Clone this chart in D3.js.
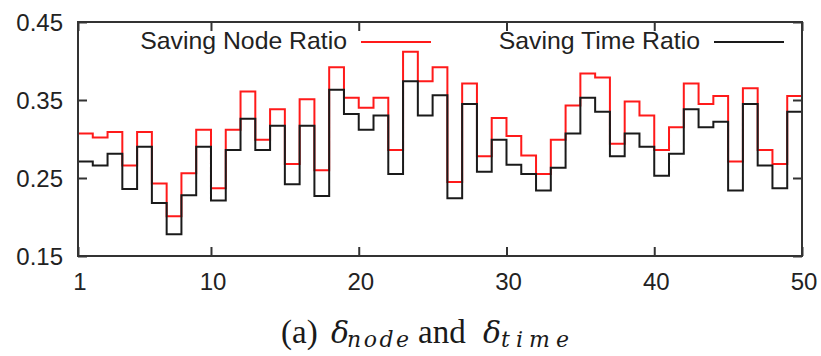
<!DOCTYPE html>
<html>
<head>
<meta charset="utf-8">
<script src="https://cdn.jsdelivr.net/npm/d3@7"></script>
<style>
  html, body { margin: 0; padding: 0; background: #fff; }
  svg { display: block; }
</style>
</head>
<body>
<svg id="chart" width="821" height="356"></svg>
<script>
// Per-run ratios, one value per step (run 1..49, each held until the next run)
const nodeRatio = [0.307,0.302,0.309,0.266,0.309,0.243,0.201,0.256,0.312,0.237,
                   0.312,0.361,0.299,0.338,0.268,0.351,0.260,0.392,0.353,0.340,
                   0.353,0.286,0.412,0.374,0.392,0.245,0.371,0.278,0.327,0.304,
                   0.279,0.255,0.299,0.343,0.384,0.379,0.294,0.348,0.330,0.286,
                   0.315,0.371,0.345,0.355,0.271,0.365,0.286,0.268,0.355];
const timeRatio = [0.271,0.266,0.281,0.236,0.290,0.218,0.178,0.228,0.290,0.221,
                   0.286,0.326,0.286,0.317,0.242,0.317,0.227,0.363,0.332,0.312,
                   0.330,0.255,0.374,0.330,0.356,0.224,0.345,0.258,0.299,0.267,
                   0.255,0.234,0.263,0.307,0.353,0.335,0.278,0.307,0.290,0.253,
                   0.281,0.338,0.315,0.322,0.234,0.345,0.266,0.237,0.335];
const seriesNames = ["Saving Node Ratio", "Saving Time Ratio"];
const seriesColors = ["#ff1a1a", "#1a1a1a"];
const xTicks = [1, 10, 20, 30, 40, 50];
const yTicks = [0.15, 0.25, 0.35, 0.45];
const xDomain = [1, 50];
const yDomain = [0.15, 0.45];

const svg = d3.select("#chart");
const plotLeft = 78, plotRight = 802, plotTop = 22, plotBottom = 256;

const x = d3.scaleLinear().domain(xDomain).range([plotLeft, plotRight]);
const y = d3.scaleLinear().domain(yDomain).range([plotBottom, plotTop]);

const sans = "'Liberation Sans', Arial, Helvetica, sans-serif";
const serif = "'Liberation Serif', 'Times New Roman', serif";
const mathSerif = "'DejaVu Serif', serif";
const axisColor = "#333";
const tickLen = 9;

// Step paths: each value held from run i to run i+1
function stepPoints(vals) {
  const pts = vals.map((v, i) => [i + 1, v]);
  pts.push([vals.length + 1, vals[vals.length - 1]]);
  return pts;
}
const line = d3.line()
  .x(d => x(d[0]))
  .y(d => y(d[1]))
  .curve(d3.curveStepAfter);

const plot = svg.append("g");
[nodeRatio, timeRatio].forEach((vals, k) => {
  plot.append("path")
    .datum(stepPoints(vals))
    .attr("d", line)
    .attr("fill", "none")
    .attr("stroke", seriesColors[k])
    .attr("stroke-width", 2)
    .attr("stroke-linejoin", "miter");
});

// Axes: inward ticks on all four sides, labels on left and bottom
const axisB = d3.axisBottom(x).tickValues(xTicks).tickSize(-tickLen).tickFormat("");
const axisT = d3.axisTop(x).tickValues(xTicks).tickSize(-tickLen).tickFormat("");
const axisL = d3.axisLeft(y).tickValues(yTicks).tickSize(-tickLen).tickFormat("");
const axisR = d3.axisRight(y).tickValues(yTicks).tickSize(-tickLen).tickFormat("");

function styleAxis(g) {
  g.select(".domain").remove();
  g.selectAll(".tick line").attr("stroke", axisColor).attr("stroke-width", 2);
}
svg.append("g").attr("transform", `translate(0,${plotBottom})`).call(axisB).call(styleAxis);
svg.append("g").attr("transform", `translate(0,${plotTop})`).call(axisT).call(styleAxis);
svg.append("g").attr("transform", `translate(${plotLeft},0)`).call(axisL).call(styleAxis);
svg.append("g").attr("transform", `translate(${plotRight},0)`).call(axisR).call(styleAxis);

// Frame
svg.append("rect")
  .attr("x", plotLeft).attr("y", plotTop)
  .attr("width", plotRight - plotLeft).attr("height", plotBottom - plotTop)
  .attr("fill", "none").attr("stroke", axisColor).attr("stroke-width", 2);

// Tick labels
svg.append("g").selectAll("text")
  .data(yTicks).join("text")
  .attr("x", plotLeft - 15)
  .attr("y", d => y(d))
  .attr("dy", "0.36em")
  .attr("text-anchor", "end")
  .attr("font-family", sans).attr("font-size", 24).attr("fill", "#222")
  .text(d => d3.format(".2f")(d));

svg.append("g").selectAll("text")
  .data(xTicks).join("text")
  .attr("x", d => x(d) + 2)
  .attr("y", 290)
  .attr("text-anchor", "middle")
  .attr("font-family", sans).attr("font-size", 24).attr("fill", "#222")
  .text(d => d);

// Legend
const legendTextEnd = [347, 700];
seriesNames.forEach((name, k) => {
  svg.append("text")
    .attr("x", legendTextEnd[k]).attr("y", 49)
    .attr("text-anchor", "end")
    .attr("font-family", sans).attr("font-size", 24.8).attr("fill", "#222")
    .text(name);
  svg.append("line")
    .attr("x1", legendTextEnd[k] + 14).attr("x2", legendTextEnd[k] + 84)
    .attr("y1", 42).attr("y2", 42)
    .attr("stroke", seriesColors[k]).attr("stroke-width", 2);
});

// Caption: (a) δ_node and δ_time
const cap = svg.append("text")
  .attr("y", 343)
  .attr("font-family", serif).attr("font-size", 33).attr("fill", "#1a1a1a");
cap.append("tspan").attr("x", 281).text("(a)");
cap.append("tspan").attr("x", 331).attr("font-family", mathSerif).attr("font-size", 30)
  .attr("font-style", "italic").text("δ");
cap.append("tspan").attr("x", 347).attr("y", 347).attr("font-family", mathSerif).attr("font-size", 22)
  .attr("font-style", "italic").attr("textLength", 62).attr("lengthAdjust", "spacing").text("node");
cap.append("tspan").attr("x", 418).attr("y", 343).text("and");
cap.append("tspan").attr("x", 483).attr("font-family", mathSerif).attr("font-size", 30)
  .attr("font-style", "italic").text("δ");
cap.append("tspan").attr("x", 501).attr("y", 347).attr("font-family", mathSerif).attr("font-size", 22)
  .attr("font-style", "italic").attr("textLength", 68).attr("lengthAdjust", "spacing").text("time");
</script>
</body>
</html>
